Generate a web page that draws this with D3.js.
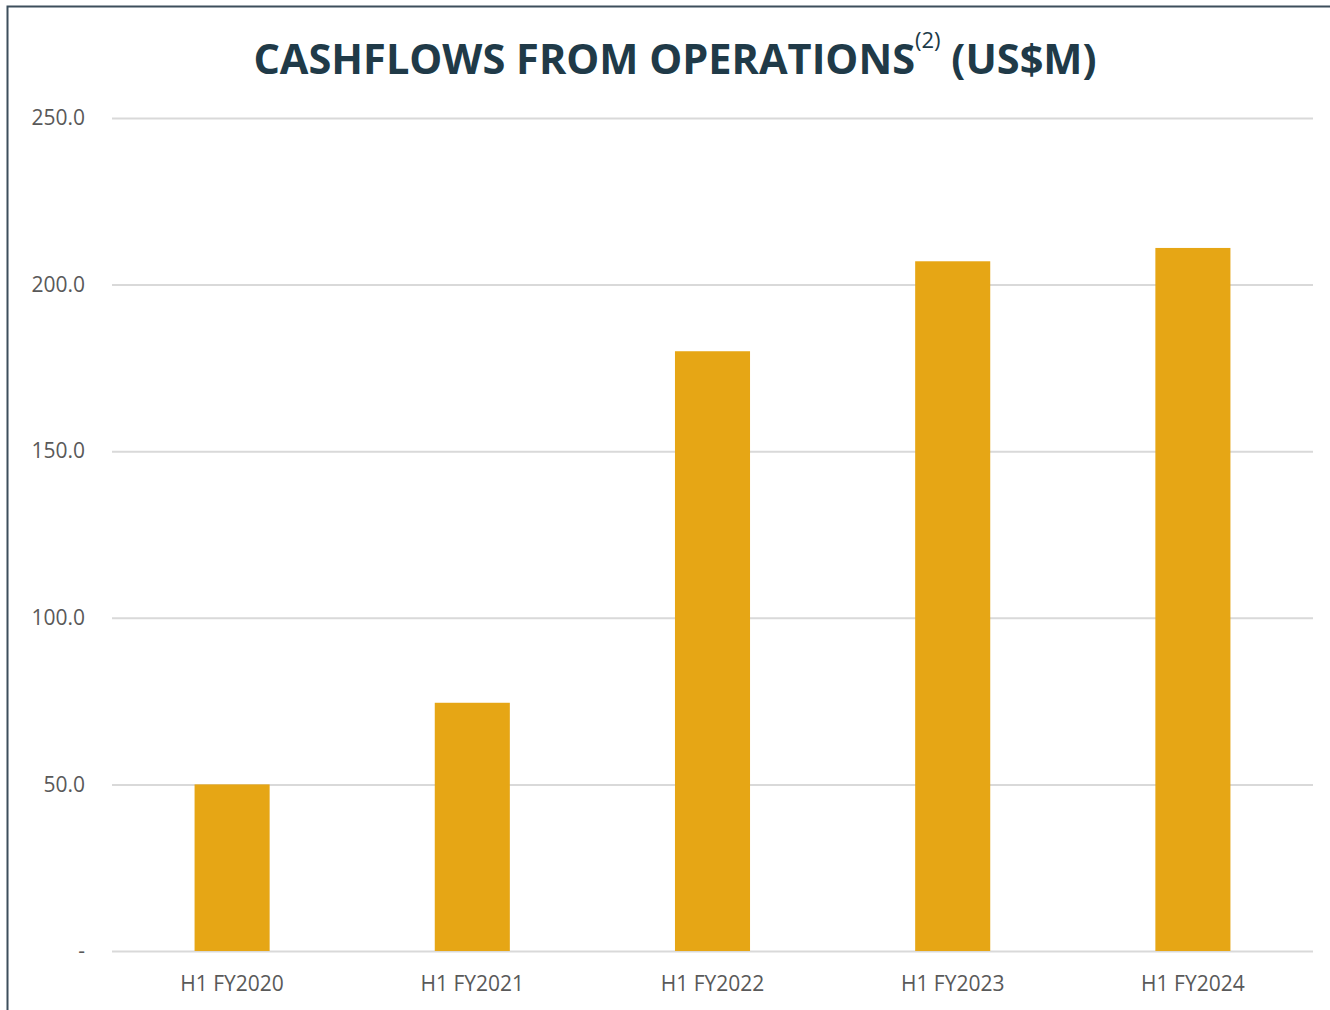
<!DOCTYPE html>
<html lang="en">
<head>
  <meta charset="UTF-8">
  <title>Cashflows from operations</title>
  <script src="https://d3js.org/d3.v7.min.js"></script>
  <style>
    body {
      margin: 0;
      background: #ffffff;
      font-family: 'Open Sans', sans-serif;
    }
  </style>
</head>
<body>
  <div id="wrapper"></div>
  <script>
    const categories = ['H1 FY2020', 'H1 FY2021', 'H1 FY2022', 'H1 FY2023', 'H1 FY2024']
    const cashflows = [50.0, 74.5, 180.0, 207.0, 211.0]
    const yTicks = [0, 50, 100, 150, 200, 250]

    const dimensions = {
      width: 1330,
      height: 1010,
      margin: { top: 118, right: 17, bottom: 59, left: 112 }
    }
    dimensions.boundedWidth = dimensions.width - dimensions.margin.left - dimensions.margin.right
    dimensions.boundedHeight = dimensions.height - dimensions.margin.top - dimensions.margin.bottom

    const svg = d3.select('#wrapper')
      .append('svg')
        .attr('width', dimensions.width)
        .attr('height', dimensions.height)

    // frame: only top and left edges are visible
    svg.append('path')
      .attr('d', `M7.5,${dimensions.height} V6.5 H${dimensions.width}`)
      .attr('fill', 'none')
      .attr('stroke', '#3d4f5c')
      .attr('stroke-width', 2)

    const title = svg.append('text')
      .attr('x', 675)
      .attr('y', 74)
      .attr('text-anchor', 'middle')
      .attr('fill', '#203a48')
      .style('font-weight', 700)
      .style('font-size', '41.5px')
    title.append('tspan').text('CASHFLOWS FROM OPERATIONS')
    title.append('tspan').text('(2)')
      .attr('dy', -26)
      .style('font-size', '22px')
      .style('font-weight', 400)
    title.append('tspan').text(' (US$M)')
      .attr('dy', 26)

    const bounds = svg.append('g')
      .attr('transform', `translate(${dimensions.margin.left}, ${dimensions.margin.top})`)

    const xScale = d3.scaleBand()
      .domain(categories)
      .range([0, dimensions.boundedWidth])
      .paddingInner(0.6875)
      .paddingOuter(0.34375)

    const yScale = d3.scaleLinear()
      .domain([0, 250])
      .range([dimensions.boundedHeight, 0])

    // gridlines + y labels
    const yAxis = bounds.append('g')
      .call(d3.axisLeft(yScale)
        .tickValues(yTicks)
        .tickSize(-dimensions.boundedWidth)
        .tickPadding(27)
        .tickFormat(d => d === 0 ? '-' : d3.format('.1f')(d)))
    yAxis.select('.domain').remove()
    yAxis.selectAll('.tick line')
      .attr('stroke', '#d9d9d9')
      .attr('stroke-width', 2)
    yAxis.selectAll('.tick text')
      .attr('fill', '#595959')
      .style('font-size', '21px')
      .style('font-family', "'Open Sans', sans-serif")

    bounds.selectAll('.bar')
      .data(cashflows)
      .join('rect')
        .attr('class', 'bar')
        .attr('x', (d, i) => xScale(categories[i]))
        .attr('y', d => yScale(d))
        .attr('width', xScale.bandwidth())
        .attr('height', d => dimensions.boundedHeight - yScale(d))
        .attr('fill', '#e6a615')

    const xAxis = bounds.append('g')
      .attr('transform', `translate(0, ${dimensions.boundedHeight})`)
      .call(d3.axisBottom(xScale).tickSize(0).tickPadding(25))
    xAxis.select('.domain').remove()
    xAxis.selectAll('.tick text')
      .attr('fill', '#595959')
      .style('font-size', '21px')
      .style('font-family', "'Open Sans', sans-serif")
  </script>
</body>
</html>
